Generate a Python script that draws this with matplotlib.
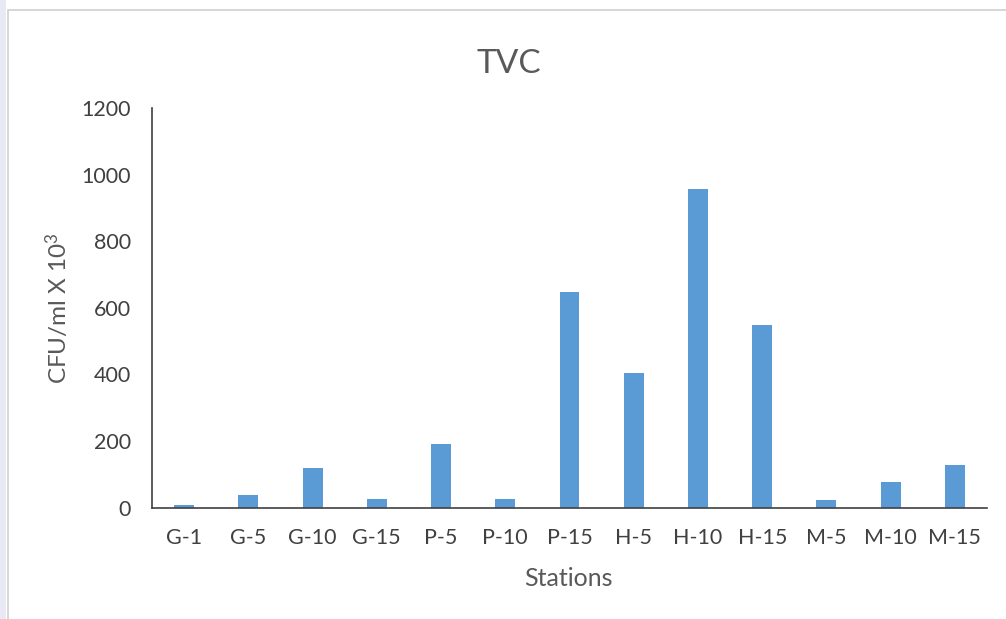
import matplotlib
matplotlib.use("Agg")
import matplotlib.pyplot as plt
from matplotlib.patches import Rectangle

plt.rcParams['font.family'] = ['Lato', 'DejaVu Sans']
plt.rcParams['mathtext.fontset'] = 'custom'
plt.rcParams['mathtext.rm'] = 'Lato'
plt.rcParams['mathtext.it'] = 'Lato'

stations = ["G-1", "G-5", "G-10", "G-15", "P-5", "P-10", "P-15",
            "H-5", "H-10", "H-15", "M-5", "M-10", "M-15"]
tvc = [8, 37, 120, 26, 190, 26, 647, 405, 957, 548, 23, 78, 128]
y_ticks = [0, 200, 400, 600, 800, 1000, 1200]

bar_color = "#5B9BD5"
text_color = "#595959"
tick_color = "#404040"

W, H = 1006, 619
fig = plt.figure(figsize=(W / 100, H / 100), dpi=100)
fig.patch.set_facecolor("white")

# chart frame
fig.patches.append(Rectangle((8 / W, -0.1), 1.2, (H - 10) / H + 0.1,
                             transform=fig.transFigure, fill=False,
                             edgecolor="#d0d0d0", linewidth=1.2))
fig.patches.append(Rectangle((0, 0), 6 / W, 1, transform=fig.transFigure,
                             facecolor="#e9e9f5", edgecolor="none"))

ax = fig.add_axes([152 / W, (H - 507.5) / H, 835 / W, 399.5 / H])
x = range(len(stations))
ax.bar(x, tvc, width=0.31, color=bar_color, zorder=2)

ax.set_xlim(-0.5, len(stations) - 0.5)
ax.set_ylim(0, 1200)
ax.set_yticks(y_ticks)
ax.set_yticklabels([str(v) for v in y_ticks])
ax.set_xticks(list(x))
ax.set_xticklabels(stations)

for side in ("top", "right"):
    ax.spines[side].set_visible(False)
for side in ("left", "bottom"):
    ax.spines[side].set_color(tick_color)
    ax.spines[side].set_linewidth(1.2)

ax.tick_params(axis="both", length=0, labelsize=15.5, labelcolor=tick_color)
ax.tick_params(axis="y", pad=15)
ax.tick_params(axis="x", pad=15)

fig.text(509 / W, 1 - 64 / H, "TVC", fontsize=24, color=text_color,
         ha="center", va="center")

ax.set_xlabel("Stations", fontsize=18, color=text_color, va="center")
ax.xaxis.set_label_coords((568 - 152) / 835, (507.5 - 579) / 399.5)
ax.set_ylabel("CFU/ml X 10$^{3}$", fontsize=17.5, color=text_color, va="center")
ax.yaxis.set_label_coords((57 - 152) / 835, 0.5)

fig.savefig("out.png", dpi=100)
